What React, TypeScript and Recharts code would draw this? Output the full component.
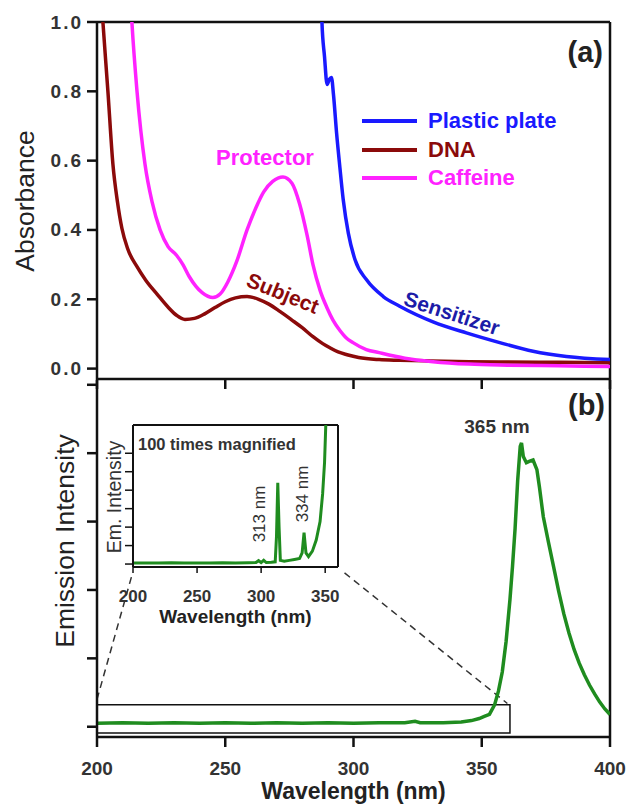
import React from 'react';
import { Legend, Line, LineChart, ReferenceArea, ReferenceLine, XAxis, YAxis } from 'recharts';

const FONT = '"Liberation Sans", Arial, Helvetica, sans-serif';

// x axis shared by both panels (nm)
const WL_TICKS = [200, 250, 300, 350, 400];
const ABS_TICKS = [0, 0.2, 0.4, 0.6, 0.8, 1.0];
const EM_TICKS = [0, 1, 2, 3, 4, 5];
const INSET_X_TICKS = [200, 250, 300, 350];
const INSET_Y_TICKS = [0, 1, 2, 3, 4, 5, 6];

// (a) absorbance spectra
const dnaWl = [201, 202.3, 204.3, 206.2, 208, 209.7, 212, 215.6, 219, 223.4, 228, 231, 234.3, 238, 242, 246, 250, 254, 258.5, 263, 267, 271.3, 276, 280, 284.2, 288, 290.8, 294, 297.5, 302, 310, 318, 330, 345, 360, 380, 400];
const dnaAbs = [1.15, 1.0, 0.795, 0.59, 0.48, 0.405, 0.345, 0.294, 0.255, 0.215, 0.175, 0.154, 0.142, 0.145, 0.158, 0.176, 0.193, 0.204, 0.208, 0.2, 0.186, 0.165, 0.14, 0.118, 0.092, 0.072, 0.06, 0.048, 0.04, 0.032, 0.026, 0.024, 0.022, 0.02, 0.019, 0.018, 0.017];

const caffeineWl = [212.5, 213.6, 215.6, 218.7, 221.5, 224.6, 227.7, 231, 233.5, 236, 238.5, 241, 245.2, 248, 251, 254.5, 258.5, 262, 265, 268.5, 272.5, 276, 279, 281.9, 284.2, 287, 289.7, 292, 294.7, 297, 299.8, 305, 310, 320, 331, 345, 360, 380, 400];
const caffeineAbs = [1.15, 1.0, 0.8, 0.59, 0.48, 0.4, 0.352, 0.327, 0.3, 0.265, 0.238, 0.219, 0.205, 0.215, 0.25, 0.31, 0.4, 0.465, 0.51, 0.54, 0.553, 0.535, 0.475, 0.385, 0.3, 0.225, 0.175, 0.14, 0.11, 0.09, 0.075, 0.055, 0.046, 0.03, 0.02, 0.013, 0.01, 0.008, 0.006];

const plasticWl = [287.3, 287.7, 288.7, 289.7, 290.6, 291.4, 292.2, 293.4, 294.7, 296, 298, 300.6, 305.1, 311.6, 318, 331, 344, 357, 370, 383, 400];
const plasticAbs = [1.1, 1.0, 0.9, 0.82, 0.835, 0.84, 0.79, 0.68, 0.58, 0.487, 0.39, 0.314, 0.256, 0.208, 0.18, 0.135, 0.103, 0.075, 0.05, 0.035, 0.026];

// (b) emission of the lamp
const emWl = [200, 210, 220, 230, 240, 250, 260, 270, 280, 290, 300, 310, 320, 324, 326, 335, 342, 346, 349, 351, 353, 355, 356.5, 358, 359.5, 361, 362, 363, 364, 365, 365.5, 366.2, 367.4, 368.5, 370, 371.5, 372.5, 374, 376, 378, 380, 382, 384, 386, 388, 390, 392, 394, 396, 398, 400];
const emInt = [0.05, 0.06, 0.05, 0.06, 0.05, 0.06, 0.05, 0.06, 0.05, 0.06, 0.05, 0.06, 0.06, 0.08, 0.06, 0.06, 0.07, 0.09, 0.12, 0.15, 0.18, 0.32, 0.52, 0.8, 1.25, 1.86, 2.35, 2.9, 3.6, 4.1, 4.15, 3.95, 3.86, 3.88, 3.9, 3.76, 3.5, 3.07, 2.7, 2.34, 1.98, 1.65, 1.37, 1.13, 0.93, 0.76, 0.61, 0.48, 0.36, 0.26, 0.18];

// inset, 100x magnified
const insetWl = [200, 210, 220, 230, 240, 250, 260, 270, 280, 290, 296, 298, 300, 302, 304, 308, 311, 312, 313, 314, 315, 318, 322, 326, 330, 332, 333.5, 335, 337, 340, 343, 346, 348, 349.5, 350.5, 352];
const insetInt = [0.05, 0.06, 0.05, 0.07, 0.06, 0.05, 0.06, 0.07, 0.06, 0.07, 0.08, 0.18, 0.08, 0.2, 0.08, 0.1, 0.12, 1.5, 4.4, 2.0, 0.2, 0.15, 0.2, 0.25, 0.3, 0.6, 1.7, 0.6, 0.4, 0.7, 1.3, 2.3, 3.8, 5.5, 7.6, 10];

const zip = (xs: number[], ys: number[]) => xs.map((wl, i) => ({ wl, v: ys[i] }));

const dnaData = zip(dnaWl, dnaAbs);
const caffeineData = zip(caffeineWl, caffeineAbs);
const plasticData = zip(plasticWl, plasticAbs);
const emData = zip(emWl, emInt);
const insetData = zip(insetWl, insetInt);

const BLUE = '#1a1aff';
const RED = '#8b0a0a';
const MAGENTA = '#ff22ff';
const GREEN = '#1f8c1f';
const INK = '#222';

const LEGEND_ORDER = ['Plastic plate', 'DNA', 'Caffeine'];

const ABS_DOMAIN: [number, number] = [-0.03, 1.0];
const EM_DOMAIN: [number, number] = [-0.15, 5.07];
const INSET_DOMAIN: [number, number] = [-0.16, 7.53];

const frame = (w: number) => ({ stroke: '#111', strokeWidth: w });

// tick marks drawn by hand (tickSize 0 puts x/y right on the axis line)
type TickOpt = { len: number; sw: number; fontSize?: number; gap?: number; fmt?: (v: number) => string; spacing?: number };

const leftTick = (o: TickOpt) => (p: any) => (
  <g>
    <line x1={p.x - o.len} x2={p.x} y1={p.y} y2={p.y} stroke="#111" strokeWidth={o.sw} />
    {o.fontSize ? (
      <text x={p.x - o.len - (o.gap || 0)} y={p.y} textAnchor="end" dominantBaseline="central" fontSize={o.fontSize} fontWeight="bold" fill="#333" fontFamily={FONT} letterSpacing={o.spacing || 0}>
        {o.fmt ? o.fmt(p.payload.value) : p.payload.value}
      </text>
    ) : null}
  </g>
);

const bottomTick = (o: TickOpt) => (p: any) => (
  <g>
    <line x1={p.x} x2={p.x} y1={p.y} y2={p.y + o.len} stroke="#111" strokeWidth={o.sw} />
    {o.fontSize ? (
      <text x={p.x} y={p.y + o.len + (o.gap || 0)} dy="0.71em" textAnchor="middle" fontSize={o.fontSize} fontWeight="bold" fill="#333" fontFamily={FONT}>
        {p.payload.value}
      </text>
    ) : null}
  </g>
);

function LegendBox(props: any) {
  const items = LEGEND_ORDER.map((n) => (props.payload || []).find((p: any) => p.value === n)).filter(Boolean);
  return (
    <div style={{ fontFamily: FONT }}>
      {items.map((p: any) => (
        <div key={p.value} style={{ display: 'flex', alignItems: 'center', height: 28.5 }}>
          <span style={{ display: 'inline-block', width: 55, height: 4, background: p.color, marginRight: 11 }} />
          <span style={{ fontSize: 22, fontWeight: 'bold', color: p.color }}>{p.value}</span>
        </div>
      ))}
    </div>
  );
}

export default function App() {
  return (
    <div style={{ position: 'absolute', left: 0, top: 0, width: 629, height: 804, background: '#fff', fontFamily: FONT }}>
      {/* (a) absorbance */}
      <div style={{ position: 'absolute', left: 0, top: 0 }}>
        <LineChart width={629} height={392} margin={{ top: 22, right: 19, bottom: 0, left: 0 }}>
          <XAxis dataKey="wl" type="number" domain={[200, 400]} ticks={WL_TICKS} interval={0} allowDataOverflow tickSize={0} tickMargin={0} tickLine={false} tick={bottomTick({ len: 10, sw: 2.5 })} height={13} axisLine={frame(2.5)} />
          <YAxis type="number" domain={ABS_DOMAIN} ticks={ABS_TICKS} interval={0} allowDataOverflow width={97} tickSize={0} tickMargin={0} tickLine={false} tick={leftTick({ len: 10, sw: 2.5, fontSize: 19, gap: 4, spacing: 2, fmt: (v) => v.toFixed(1) })} axisLine={frame(2.5)} />
          <ReferenceLine y={1} stroke="#111" strokeWidth={2.5} />
          <ReferenceLine x={400} stroke="#111" strokeWidth={2.5} />
          <Line data={dnaData} dataKey="v" name="DNA" type="monotone" stroke={RED} strokeWidth={3.5} dot={false} isAnimationActive={false} />
          <Line data={caffeineData} dataKey="v" name="Caffeine" type="monotone" stroke={MAGENTA} strokeWidth={3.5} dot={false} isAnimationActive={false} />
          <Line data={plasticData} dataKey="v" name="Plastic plate" type="monotone" stroke={BLUE} strokeWidth={3.5} dot={false} isAnimationActive={false} />
          <Legend layout="vertical" align="center" verticalAlign="middle" content={LegendBox} wrapperStyle={{ left: 362, top: 107, width: 240, height: 90 }} />
        </LineChart>
      </div>

      {/* (b) emission */}
      <div style={{ position: 'absolute', left: 0, top: 370 }}>
        <LineChart width={629} height={434} margin={{ top: 10, right: 19, bottom: 0, left: 0 }}>
          <XAxis
            dataKey="wl"
            type="number"
            domain={[200, 400]}
            ticks={WL_TICKS}
            interval={0}
            allowDataOverflow
            tickSize={0}
            tickMargin={0}
            tickLine={false}
            height={67}
            tick={bottomTick({ len: 10, sw: 2.5, fontSize: 19, gap: 15 })}
            axisLine={frame(2.5)}
            label={{ value: 'Wavelength (nm)', position: 'insideBottom', offset: 5, fontSize: 23, fontWeight: 'bold', fill: INK, fontFamily: FONT }}
          />
          <YAxis type="number" domain={EM_DOMAIN} ticks={EM_TICKS} interval={0} allowDataOverflow width={97} tickSize={0} tickMargin={0} tickLine={false} tick={leftTick({ len: 10, sw: 2.5 })} axisLine={frame(2.5)} />
          <ReferenceLine x={400} stroke="#111" strokeWidth={2.5} />
          <ReferenceArea x1={200} x2={361} y1={-0.09} y2={0.32} fill="none" stroke="#111" strokeWidth={1.5} ifOverflow="visible" />
          <ReferenceLine segment={[{ x: 200, y: 0.4 }, { x: 213.5, y: 2.2 }]} stroke="#333" strokeWidth={1.5} strokeDasharray="7 5" ifOverflow="visible" />
          <ReferenceLine segment={[{ x: 296.5, y: 2.25 }, { x: 360, y: 0.34 }]} stroke="#333" strokeWidth={1.5} strokeDasharray="7 5" ifOverflow="visible" />
          <Line data={emData} dataKey="v" name="Emission" type="linear" stroke={GREEN} strokeWidth={3.5} dot={false} isAnimationActive={false} />
        </LineChart>
      </div>

      {/* inset */}
      <div style={{ position: 'absolute', left: 0, top: 410 }}>
        <LineChart width={350} height={220} margin={{ top: 15, right: 12, bottom: 0, left: 100 }}>
          <XAxis
            dataKey="wl"
            type="number"
            domain={[200, 360]}
            ticks={INSET_X_TICKS}
            interval={0}
            allowDataOverflow
            tickSize={0}
            tickMargin={0}
            tickLine={false}
            height={63}
            tick={bottomTick({ len: 6, sw: 1.5, fontSize: 17, gap: 17 })}
            axisLine={frame(2)}
            label={{ value: 'Wavelength (nm)', position: 'insideBottom', offset: 7, fontSize: 19, fontWeight: 'bold', fill: INK, fontFamily: FONT }}
          />
          <YAxis type="number" domain={INSET_DOMAIN} ticks={INSET_Y_TICKS} interval={0} allowDataOverflow width={33} tickSize={0} tickMargin={0} tickLine={false} tick={leftTick({ len: 8, sw: 1.5 })} axisLine={frame(2)} />
          <ReferenceLine y={INSET_DOMAIN[1]} stroke="#111" strokeWidth={2} />
          <ReferenceLine x={360} stroke="#111" strokeWidth={2} />
          <Line data={insetData} dataKey="v" name="Magnified" type="linear" stroke={GREEN} strokeWidth={3} dot={false} isAnimationActive={false} />
        </LineChart>
      </div>

      {/* labels */}
      <svg width={629} height={804} style={{ position: 'absolute', left: 0, top: 0, pointerEvents: 'none' }} fontFamily={FONT}>
        <text x={25} y={201} transform="rotate(-90 25 201)" textAnchor="middle" dominantBaseline="central" fontSize={26.5} fill={INK}>Absorbance</text>
        <text x={65} y={541} transform="rotate(-90 65 541)" textAnchor="middle" dominantBaseline="central" fontSize={26.5} fill={INK}>Emission Intensity</text>
        <text x={603} y={62} textAnchor="end" fontSize={29} fontWeight="bold" fill={INK}>(a)</text>
        <text x={605} y={415} textAnchor="end" fontSize={29} fontWeight="bold" fill={INK}>(b)</text>
        <text x={265} y={165} textAnchor="middle" fontSize={22} fontWeight="bold" fill={MAGENTA}>Protector</text>
        <text x={283} y={293} transform="rotate(22 283 293)" textAnchor="middle" dominantBaseline="central" fontSize={21} fontWeight="bold" fill={RED}>Subject</text>
        <text x={452} y={313} transform="rotate(18 452 313)" textAnchor="middle" dominantBaseline="central" fontSize={21} fontWeight="bold" fill="#1c1ca8">Sensitizer</text>
        <text x={497} y={433} textAnchor="middle" fontSize={19} fontWeight="bold" fill="#333">365 nm</text>
        <text x={138} y={450} fontSize={16.5} fontWeight="bold" fill="#333">100 times magnified</text>
        <text x={113.5} y={497} transform="rotate(-90 113.5 497)" textAnchor="middle" dominantBaseline="central" fontSize={19.5} fill="#333">Em. Intensity</text>
        <text x={259} y={514} transform="rotate(-90 259 514)" textAnchor="middle" dominantBaseline="central" fontSize={17} fill="#333">313 nm</text>
        <text x={302.5} y={494} transform="rotate(-90 302.5 494)" textAnchor="middle" dominantBaseline="central" fontSize={17} fill="#333">334 nm</text>
      </svg>
    </div>
  );
}
